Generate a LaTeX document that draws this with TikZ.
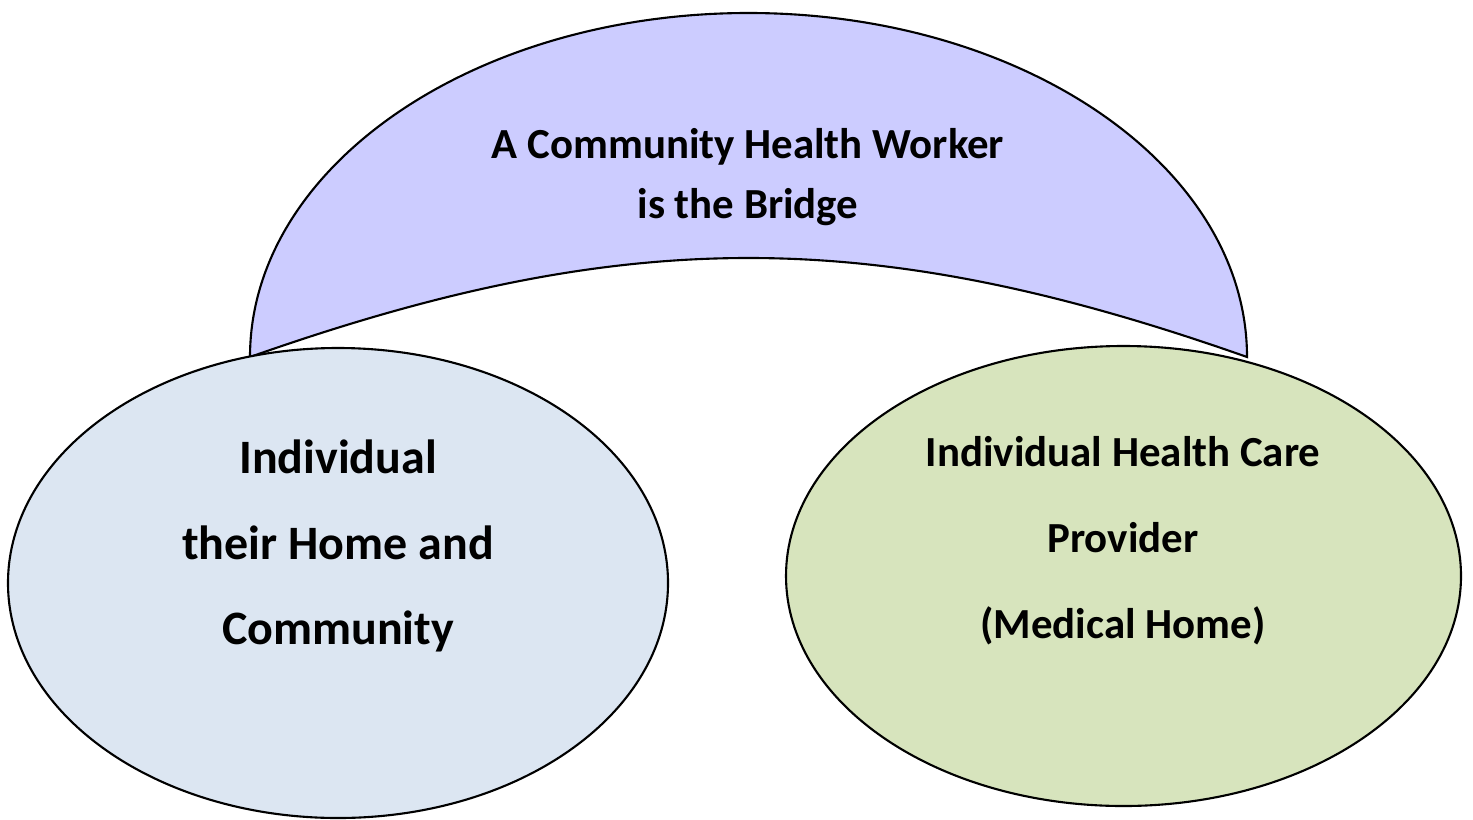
\documentclass[tikz,border=0pt]{standalone}
\usepackage{fontspec}
\setmainfont{Carlito}
\usetikzlibrary{shapes.geometric}

\definecolor{bridgeblue}{HTML}{CCCCFF}
\definecolor{homeblue}{HTML}{DCE6F2}
\definecolor{caregreen}{HTML}{D7E4BD}

\tikzset{
    oval/.style = {draw, ellipse, line width=0.6pt, inner sep=0pt},
    hometext/.style = {align=center, font=\bfseries\fontsize{13.65}{24.3}\selectfont},
    caretext/.style = {align=center, font=\bfseries\fontsize{12.2}{24.5}\selectfont},
    bridgetext/.style = {align=center, font=\bfseries\fontsize{12.2}{17}\selectfont}
}

\begin{document}
\begin{tikzpicture}
        \useasboundingbox (0, 0) rectangle (14.73, 8.19);

        % the bridge: half ellipse on top, flat curve underneath
        \draw[line width = 0.6pt, fill = bridgeblue] (2.50, 4.62)
            arc[start angle = 180, end angle = 0, x radius = 4.985, y radius = 3.44]
            .. controls (8.73, 5.94) and (6.24, 5.94) .. cycle;
        \node[bridgetext] (bridge) at (7.48, 6.42) {A Community Health Worker\\is the Bridge};

        \node[oval, fill = homeblue, minimum width = 6.60cm, minimum height = 4.70cm] (home) at (3.38, 2.36) {};
        \node[oval, fill = caregreen, minimum width = 6.75cm, minimum height = 4.60cm] (care) at (11.235, 2.43) {};

        \node[hometext] (homelabel) at (3.38, 2.73) {Individual\\their Home and\\Community};
        \node[caretext] (carelabel) at (11.23, 2.78) {Individual Health Care\\Provider\\(Medical Home)};
    \end{tikzpicture}
\end{document}
